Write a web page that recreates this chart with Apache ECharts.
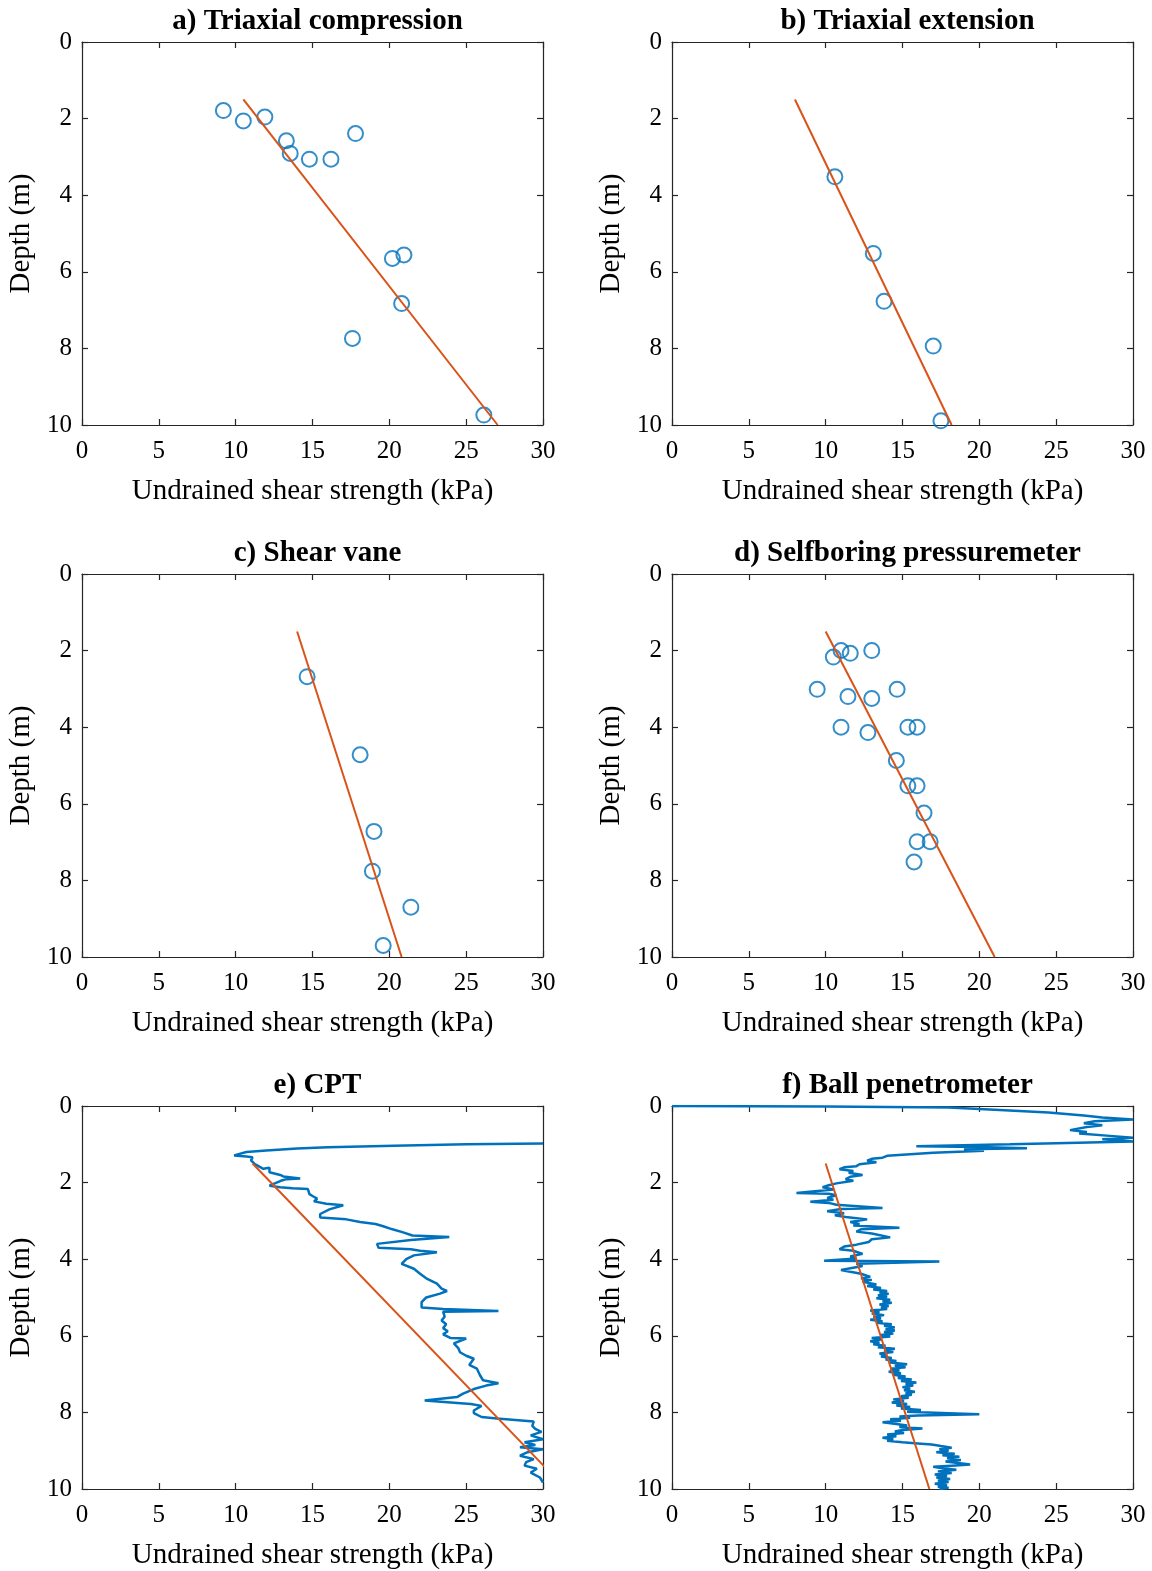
<!DOCTYPE html>
<html>
<head>
<meta charset="utf-8">
<script src="https://cdn.jsdelivr.net/npm/echarts@6/dist/echarts.min.js"></script>
<style>html,body{margin:0;padding:0;background:#fff}#c{width:1152px;height:1571px}</style>
</head>
<body>
<div id="c"></div>
<script>
// ---- tick labels ----
const strengthTicks = [0, 5, 10, 15, 20, 25, 30];
const depthTicks = [0, 2, 4, 6, 8, 10];
const panelTitles = ['a) Triaxial compression', 'b) Triaxial extension', 'c) Shear vane', 'd) Selfboring pressuremeter', 'e) CPT', 'f) Ball penetrometer'];

// ---- data: [strength kPa, depth m] ----
const triaxCompPts = [[9.2,1.79],[10.5,2.06],[11.9,1.96],[13.3,2.58],[13.55,2.91],[14.8,3.06],[16.2,3.06],[17.8,2.39],[20.2,5.65],[20.95,5.56],[20.8,6.83],[17.6,7.74],[26.15,9.74]];
const triaxCompFit = [[10.5,1.5],[27.05,10]];

const triaxExtPts = [[10.6,3.52],[13.1,5.52],[13.8,6.77],[17.0,7.94],[17.5,9.89]];
const triaxExtFit = [[8.0,1.5],[18.2,10]];

const vanePts = [[14.65,2.68],[18.1,4.72],[19.0,6.72],[18.9,7.76],[21.4,8.7],[19.6,9.7]];
const vaneFit = [[14.0,1.5],[20.8,10]];

const sbpmPts = [[11.0,2.0],[10.5,2.17],[11.6,2.07],[13.0,2.0],[9.45,3.01],[11.45,3.2],[13.0,3.25],[14.65,3.01],[11.0,4.0],[12.75,4.14],[15.35,4.0],[15.95,4.0],[14.6,4.87],[15.35,5.53],[15.95,5.53],[16.4,6.24],[15.95,6.99],[16.8,6.99],[15.75,7.52]];
const sbpmFit = [[10.0,1.5],[21.0,10]];

const cptProfile = [[30,0.98],[25,1.0],[20.3,1.04],[16,1.08],[14,1.11],[12,1.16],[10.7,1.2],[9.9,1.29],[10.7,1.32],[11.1,1.34],[11.0,1.42],[11.25,1.52],[11.8,1.64],[12.2,1.61],[12.2,1.73],[12.9,1.8],[13.1,1.84],[14.2,1.89],[13.3,1.91],[12.9,1.96],[12.2,2.08],[12.9,2.12],[13.7,2.15],[14.7,2.17],[14.8,2.3],[15.0,2.35],[15.3,2.42],[15.1,2.49],[15.9,2.55],[17.0,2.59],[16.1,2.7],[15.5,2.82],[15.5,2.91],[17.2,2.96],[18.1,3.03],[19.1,3.08],[19.6,3.14],[20.2,3.22],[20.9,3.3],[21.5,3.38],[23.9,3.42],[21.4,3.5],[19.2,3.6],[19.3,3.7],[21.4,3.74],[22.0,3.78],[23.1,3.82],[21.6,3.9],[21.1,4.0],[20.8,4.12],[21.6,4.25],[22.0,4.38],[22.4,4.5],[23.1,4.64],[23.4,4.77],[23.75,4.83],[23.3,4.9],[22.4,5.0],[22.1,5.12],[22.1,5.26],[23.5,5.3],[27.1,5.35],[23.5,5.37],[23.6,5.5],[23.4,5.6],[23.7,5.7],[23.5,5.8],[23.8,5.88],[23.5,5.96],[24.0,6.06],[25.0,6.07],[24.2,6.2],[24.5,6.33],[24.6,6.43],[25.0,6.52],[25.5,6.6],[25.2,6.76],[25.7,6.86],[25.9,7.03],[26.1,7.16],[27.1,7.24],[26.3,7.3],[25.5,7.39],[24.8,7.51],[24.4,7.6],[22.3,7.69],[24.0,7.74],[25.3,7.78],[26.0,7.83],[25.5,7.95],[25.5,8.02],[26.0,8.12],[27.0,8.16],[29.4,8.24],[29.3,8.35],[29.5,8.43],[29.9,8.51],[29.2,8.6],[30,8.7],[28.8,8.78],[29.5,8.85],[28.5,8.91],[30,8.96],[29.0,9.04],[28.5,9.13],[29.4,9.22],[28.9,9.3],[28.8,9.39],[29.6,9.47],[29.2,9.57],[29.8,9.7],[30,9.83]];
const cptFit = [[11.1,1.5],[31.5,10]];

const ballProfile = [[0,0],[5,0.005],[10,0.01],[18,0.04],[21,0.1],[24.5,0.17],[26.8,0.25],[28,0.3],[30,0.35],[27.5,0.4],[26.8,0.45],[28,0.5],[27,0.55],[25.9,0.63],[27,0.68],[26.5,0.72],[28.5,0.78],[30,0.83],[28,0.87],[30,0.93],[25,0.97],[22,1.0],[15.9,1.05],[20,1.07],[23.1,1.1],[19,1.13],[20.3,1.17],[17,1.22],[15.5,1.26],[14,1.3],[13.7,1.35],[13,1.38],[12.7,1.43],[13.3,1.47],[12.2,1.52],[12,1.57],[11.2,1.6],[10.9,1.65],[11.8,1.7],[11.5,1.74],[12.4,1.8],[11.6,1.85],[11.3,1.91],[11.8,1.95],[10.7,2.02],[10.2,2.07],[9.8,2.12],[10.5,2.18],[8.1,2.27],[10.2,2.29],[10.7,2.33],[10.1,2.4],[10.5,2.45],[9,2.5],[10.2,2.53],[10.7,2.58],[13.7,2.66],[11,2.69],[10.1,2.75],[11.2,2.8],[10.6,2.85],[11.3,2.9],[12.7,2.96],[11.6,3.03],[12.2,3.08],[11.8,3.12],[14.8,3.18],[12.3,3.22],[12.0,3.28],[13,3.33],[14.2,3.43],[13,3.48],[12.8,3.55],[12,3.62],[11.2,3.67],[10.9,3.74],[11.8,3.78],[12.4,3.86],[11.6,3.93],[12,3.98],[9.9,4.04],[17.4,4.06],[12,4.12],[12.4,4.18],[11,4.28],[11.6,4.33],[12.3,4.38],
  [12.2,4.42],[12.9,4.46],[12.3,4.5],[13.0,4.54],[12.4,4.58],[12.8,4.62],[13.3,4.66],[12.7,4.7],[13.6,4.75],[13.1,4.79],[14.0,4.83],[13.5,4.87],[14.1,4.9],[13.4,4.94],[14.0,4.98],[13.3,5.02],[14.2,5.06],[13.7,5.1],[14.3,5.14],[13.5,5.18],[14.1,5.22],[13.6,5.26],[14.0,5.3],[12.9,5.34],[13.5,5.38],[13.0,5.42],[13.8,5.46],[13.1,5.5],[13.6,5.54],[12.9,5.58],[13.7,5.62],[13.3,5.66],[14.3,5.7],[13.8,5.74],[14.5,5.78],[13.9,5.82],[14.5,5.86],[13.8,5.9],[14.4,5.94],[13.6,5.98],[14.2,6.02],[13.0,6.06],[13.6,6.1],[12.9,6.14],[13.5,6.18],[13.1,6.22],[13.9,6.26],[13.4,6.3],[14.5,6.34],[13.8,6.38],[14.4,6.42],[13.5,6.46],[14.0,6.5],[13.6,6.54],[14.3,6.58],[13.9,6.62],[14.6,6.66],[14.2,6.7],[15.3,6.74],[14.5,6.78],[15.2,6.82],[14.2,6.86],[14.8,6.9],[14.1,6.94],[14.9,6.98],[14.4,7.02],[15.2,7.06],[14.7,7.1],[15.6,7.14],[14.9,7.18],[15.9,7.22],[15.2,7.26],[15.7,7.3],[15.0,7.34],[15.5,7.38],[15.1,7.42],[15.8,7.46],[15.2,7.5],[15.6,7.54],[14.9,7.58],[15.4,7.62],[14.4,7.66],[15.1,7.7],[14.3,7.74],[15.3,7.78],[14.6,7.82],[15.5,7.86],[14.9,7.9],[16.2,7.94],[15.3,7.98],[18.0,8.02],[20.0,8.05],[16.0,8.08],[14.8,8.11],[15.5,8.14],[14.2,8.18],[14.9,8.22],[13.7,8.26],[14.6,8.3],[15.3,8.34],[14.8,8.38],[16.3,8.42],[15.0,8.46],[14.5,8.5],[15.1,8.54],[14.0,8.58],[14.6,8.62],[13.7,8.66],[14.4,8.7],[14.0,8.74],[15.0,8.78],[16.0,8.81],[16.9,8.84],[17.5,8.88],[18.2,8.92],[17.4,8.96],[18.0,9.0],[17.2,9.04],[18.4,9.08],[17.6,9.12],[18.7,9.16],[17.9,9.2],[18.8,9.24],[17.8,9.28],[18.6,9.32],[19.4,9.36],[18.2,9.39],[17.0,9.42],[17.6,9.46],[18.5,9.5],[17.3,9.54],[18.2,9.58],[17.1,9.62],[17.9,9.66],[17.2,9.7],[18.1,9.74],[17.3,9.78],[18.0,9.82],[17.1,9.86],[17.9,9.9],[17.3,9.94],[18.0,9.97],[17.4,10]];
const ballFit = [[10.0,1.5],[16.75,10]];

// ---- styling / layout ----
const BLUE = '#0072BD', ORANGE = '#D95319';
const FONT = 'Liberation Serif';
const colLeft = [82, 672], rowTop = [42, 574, 1106], W = 461, H = 383;

const panels = [
  {pts: triaxCompPts, fit: triaxCompFit},
  {pts: triaxExtPts, fit: triaxExtFit},
  {pts: vanePts, fit: vaneFit},
  {pts: sbpmPts, fit: sbpmFit},
  {profile: cptProfile, fit: cptFit},
  {profile: ballProfile, fit: ballFit}
];

const option = {animation: false, backgroundColor: '#fff', title: [], grid: [], xAxis: [], yAxis: [], series: []};

const axisLineStyle = {show: true, onZero: false, lineStyle: {color: '#262626', width: 1.2}};
const tickStyle = {show: true, inside: true, length: 6, lineStyle: {color: '#262626', width: 1.2}};

panels.forEach((p, i) => {
  const c = i % 2, r = Math.floor(i / 2);
  const left = colLeft[c], top = rowTop[r];
  option.grid.push({left: left, top: top, width: W, height: H, containLabel: false});
  option.title.push({
    text: panelTitles[i], left: left + W / 2, top: top - 40, textAlign: 'center',
    textStyle: {fontFamily: FONT, fontWeight: 'bold', fontSize: 29, color: '#000'}
  });
  const xmin = strengthTicks[0], xmax = strengthTicks[strengthTicks.length - 1];
  const ymin = depthTicks[0], ymax = depthTicks[depthTicks.length - 1];
  option.xAxis.push({
    type: 'value', gridIndex: i, min: xmin, max: xmax, interval: 5, position: 'bottom',
    name: 'Undrained shear strength (kPa)', nameLocation: 'middle', nameGap: 52,
    nameTextStyle: {fontFamily: FONT, fontSize: 29, color: '#000'},
    axisLine: axisLineStyle, axisTick: tickStyle, splitLine: {show: false},
    axisLabel: {fontFamily: FONT, fontSize: 25, color: '#000', margin: 14}
  });
  option.xAxis.push({
    type: 'value', gridIndex: i, min: xmin, max: xmax, interval: 5, position: 'top',
    axisLine: axisLineStyle, axisTick: tickStyle, splitLine: {show: false}, axisLabel: {show: false}
  });
  option.yAxis.push({
    type: 'value', gridIndex: i, min: ymin, max: ymax, interval: 2, inverse: true, position: 'left',
    name: 'Depth (m)', nameLocation: 'middle', nameGap: 46,
    nameTextStyle: {fontFamily: FONT, fontSize: 29, color: '#000'},
    axisLine: axisLineStyle, axisTick: tickStyle, splitLine: {show: false},
    axisLabel: {fontFamily: FONT, fontSize: 25, color: '#000', margin: 10}
  });
  option.yAxis.push({
    type: 'value', gridIndex: i, min: ymin, max: ymax, interval: 2, inverse: true, position: 'right',
    axisLine: axisLineStyle, axisTick: tickStyle, splitLine: {show: false}, axisLabel: {show: false}
  });
  const xi = i * 2, yi = i * 2;
  if (p.pts) {
    option.series.push({
      type: 'scatter', xAxisIndex: xi, yAxisIndex: yi, data: p.pts, symbol: 'circle', symbolSize: 15,
      itemStyle: {color: 'rgba(0,0,0,0)', borderColor: BLUE, borderWidth: 2}, z: 3
    });
  }
  if (p.profile) {
    option.series.push({
      type: 'line', xAxisIndex: xi, yAxisIndex: yi, data: p.profile, showSymbol: false, symbol: 'none',
      lineStyle: {color: BLUE, width: 2.5}, z: 2, clip: true
    });
  }
  option.series.push({
    type: 'line', xAxisIndex: xi, yAxisIndex: yi, data: p.fit, showSymbol: false, symbol: 'none',
    lineStyle: {color: ORANGE, width: 2}, z: 4, clip: true
  });
});

const chart = echarts.init(document.getElementById('c'), null, {renderer: 'canvas'});
chart.setOption(option);
</script>
</body>
</html>
